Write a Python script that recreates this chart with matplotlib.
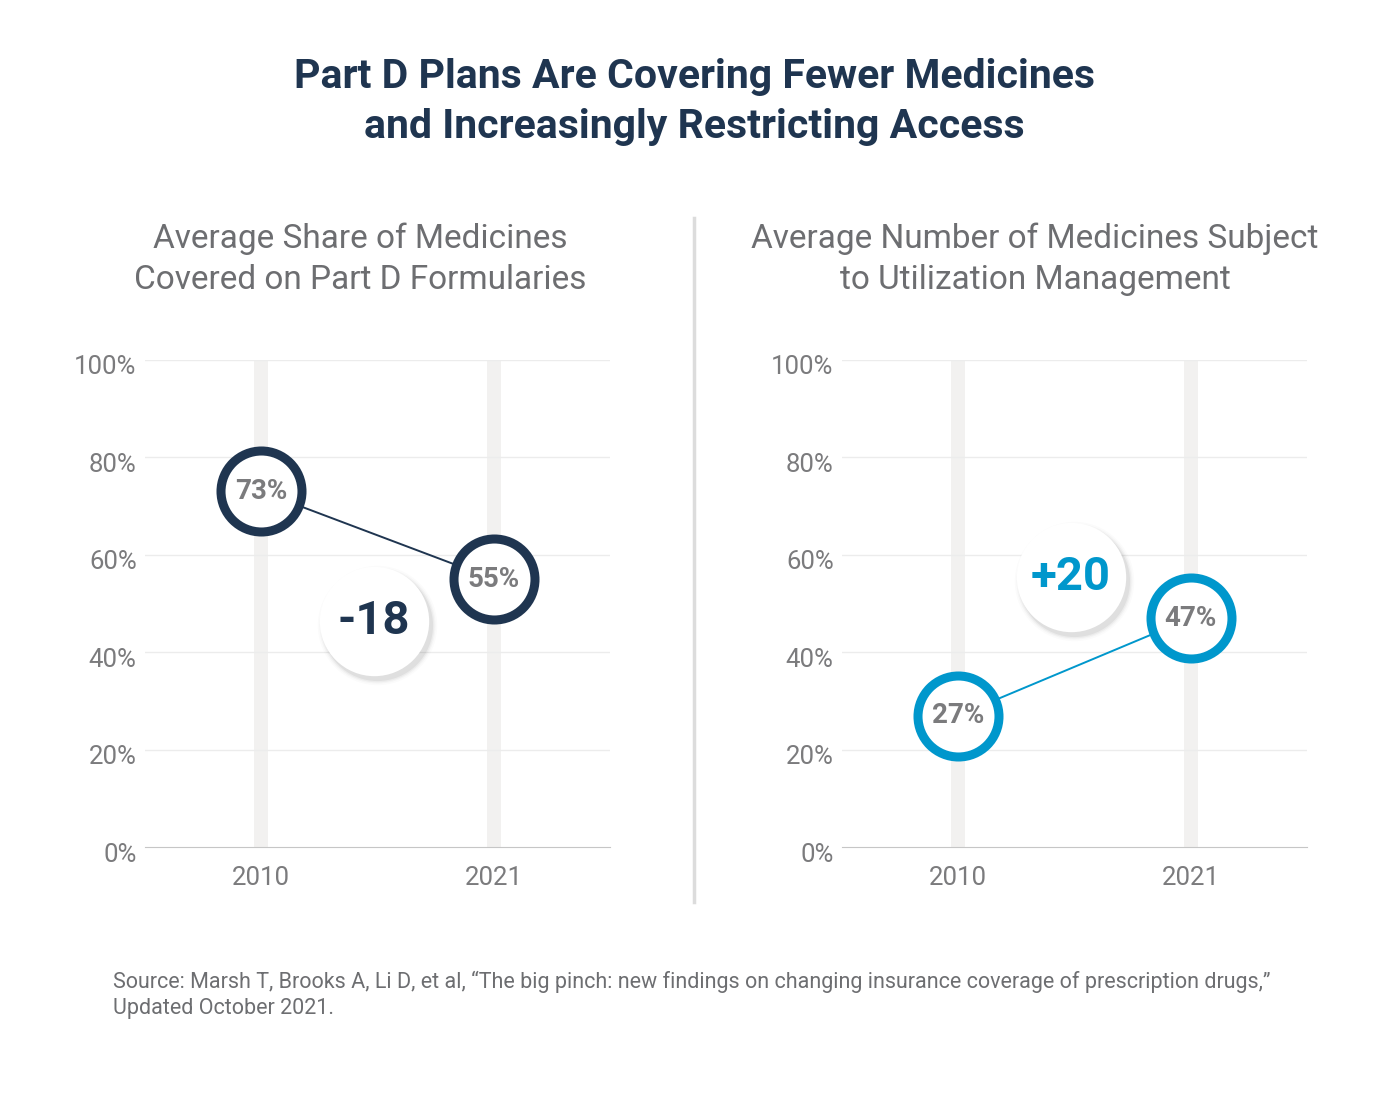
import matplotlib.pyplot as plt
from matplotlib.transforms import offset_copy, ScaledTranslation

plt.rcParams['font.family'] = ['Roboto', 'DejaVu Sans']

years = ['2010', '2021']
share_covered = [73, 55]
share_um = [27, 47]
yticks = [0, 20, 40, 60, 80, 100]
ytick_labels = ['0%', '20%', '40%', '60%', '80%', '100%']

navy = '#1f3550'
blue = '#0097cc'
gray_text = '#6d6e71'
label_gray = '#7b7b7d'

fig = plt.figure(figsize=(13.88, 10.98), dpi=100)

fig.text(0.5, 1 - 102 / 1098, 'Part D Plans Are Covering Fewer Medicines\nand Increasingly Restricting Access',
         ha='center', va='center', fontsize=29.5, fontweight='bold', color=navy, linespacing=1.4)

# divider between the panels
fig.add_artist(plt.Line2D([694 / 1388, 694 / 1388], [1 - 218 / 1098, 1 - 902 / 1098],
                          color='#dcdcdc', lw=2.5))


def panel(left, values, color, title, title_x):
    ax = fig.add_axes([left / 1388, 251 / 1098, 465 / 1388, 487 / 1098])
    x = range(len(years))
    ax.set_xlim(-0.5, 1.5)
    ax.set_ylim(0, 100)
    for xi in x:
        ax.axvline(xi, color='#f2f1f0', lw=10, zorder=0)
    for yv in yticks[1:]:
        ax.axhline(yv, color='#ececec', lw=1, zorder=0.5)
    for s in ['top', 'right', 'left']:
        ax.spines[s].set_visible(False)
    ax.spines['bottom'].set_color('#c6c6c6')
    ax.set_yticks(yticks)
    ax.set_yticklabels(ytick_labels)
    ax.set_xticks(list(x))
    ax.set_xticklabels(years)
    ax.tick_params(length=0, labelsize=18.5, labelcolor=label_gray, pad=6)
    ax.tick_params(axis='x', pad=14)
    shift = ScaledTranslation(0, -5 / 100, fig.dpi_scale_trans)
    for lab in ax.get_yticklabels():
        lab.set_transform(lab.get_transform() + shift)

    ax.plot(list(x), values, color=color, lw=1.4, zorder=2)
    ax.scatter(list(x), values, s=3400, facecolor='white', edgecolor=color, linewidths=6.5, zorder=3)
    for xi, v in zip(x, values):
        ax.text(xi, v, f'{v}%', ha='center', va='center', fontsize=20, fontweight='bold',
                color=label_gray, zorder=4)

    # change bubble with a soft shadow
    delta = values[1] - values[0]
    bx, by = 0.485, (values[0] + values[1]) / 2 + (-17.5 if delta < 0 else 18.5)
    for sz, a in [(7400, 0.015), (7000, 0.025), (6700, 0.035), (6400, 0.05)]:
        tr = offset_copy(ax.transData, fig=fig, x=3, y=-4, units='dots')
        ax.scatter([bx], [by], s=sz, color='black', alpha=a, linewidths=0, transform=tr, zorder=2.5)
    ax.scatter([bx], [by], s=6200, color='white', linewidths=0, zorder=2.6)
    ax.text(bx, by, f'{delta:+d}', ha='center', va='center', fontsize=34, fontweight='bold',
            color=color, zorder=2.7)

    fig.text(title_x / 1388, 1 - 259 / 1098, title, ha='center', va='center', fontsize=24,
             color=gray_text, linespacing=1.35)
    return ax


panel(145, share_covered, navy, 'Average Share of Medicines\nCovered on Part D Formularies', 360)
panel(842, share_um, blue, 'Average Number of Medicines Subject\nto Utilization Management', 1035)

fig.text(113 / 1388, 1 - 995 / 1098,
         'Source: Marsh T, Brooks A, Li D, et al, \u201cThe big pinch: new findings on changing insurance coverage of prescription drugs,\u201d\nUpdated October 2021.',
         ha='left', va='center', fontsize=15.5, color=gray_text, linespacing=1.3)

fig.savefig('out.png', dpi=100)
